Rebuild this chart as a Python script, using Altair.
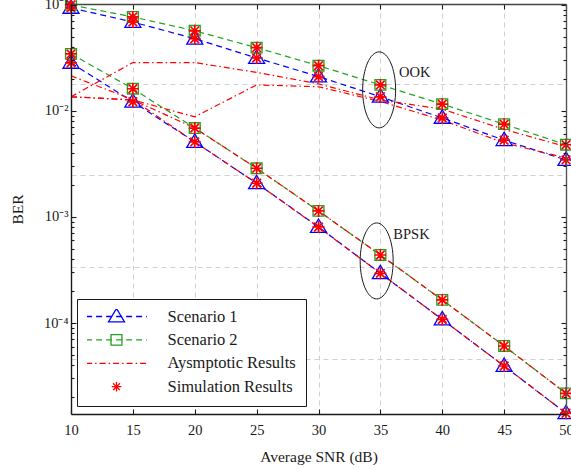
import altair as alt
import pandas as pd

# ---------------- data ----------------
snr = [10, 15, 20, 25, 30, 35, 40, 45, 50]

# simulated BER (OOK / BPSK, two scenarios)
ook_s1 = [0.0937, 0.069, 0.048, 0.0316, 0.0211, 0.0136, 0.0086, 0.0053, 0.00345]
ook_s2 = [0.100, 0.077, 0.057, 0.0395, 0.0267, 0.0176, 0.0116, 0.0075, 0.0048]
bpsk_s1 = [0.0284, 0.0122, 0.0051, 0.00208, 0.000805, 0.000294, 0.000108, 3.93e-5, 1.41e-5]
bpsk_s2 = [0.0345, 0.0162, 0.0069, 0.00288, 0.00114, 0.000438, 0.000165, 6.07e-5, 2.17e-5]

# asymptotic expressions
asym_ook_a = [0.0136, 0.0286, 0.0286, 0.0231, 0.0180, 0.0127, 0.0104, 0.0067, 0.0046]
asym_ook_b = [0.0136, 0.0127, 0.0088, 0.0176, 0.0169, 0.0123, 0.0082, 0.0050, 0.0036]
asym_bpsk_1 = [0.0214, 0.0128, 0.0051, 0.00208, 0.00080, 0.000294, 0.000108, 3.93e-5, 1.41e-5]
asym_bpsk_2 = [0.0136, 0.0127, 0.0069, 0.00288, 0.00114, 0.000438, 0.000165, 6.07e-5, 2.17e-5]

# annotations
group_names = ["OOK", "BPSK"]
group_snr = [34.9, 34.7]
group_ber = [0.0158, 3.85e-4]
group_label_snr = [36.5, 36.05]
group_label_ber = [0.0228, 6.8e-4]

legend_entries = ["Scenario 1", "Scenario 2", "Aysmptotic Results", "Simulation Results"]
legend_marker_keys = ["triangle", "square", "none", "asterisk"]

# axis ticks
x_grid_vals = [15, 20, 25, 30, 35, 40, 45]
y_major_exp = [-4, -3, -2, -1]
y_major_text = ["10⁻⁴", "10⁻³", "10⁻²", "10⁻¹"]
y_grid_vals = [0.0181, 0.00249, 3.38e-4, 4.57e-5]
y_domain = [1.386e-5, 0.102]

y_major = [10.0 ** e for e in y_major_exp]
y_minor = [m * 10.0 ** e for e in [-5, -4, -3, -2] for m in range(2, 10)
           if y_domain[0] <= m * 10.0 ** e <= y_domain[1]]


def frame(series):
    rows = []
    for name, vals in series.items():
        for s, v in zip(snr, vals):
            rows.append({"snr": s, "ber": v, "curve": name})
    return pd.DataFrame(rows)


s1_df = frame({"ook_s1": ook_s1, "bpsk_s1": bpsk_s1})
s2_df = frame({"ook_s2": ook_s2, "bpsk_s2": bpsk_s2})
asym_df = frame({"ook_a": asym_ook_a, "ook_b": asym_ook_b,
                 "bpsk_1": asym_bpsk_1, "bpsk_2": asym_bpsk_2})
sim_df = pd.concat([s1_df, s2_df], ignore_index=True)
ann_df = pd.DataFrame({"name": group_names, "snr": group_snr, "ber": group_ber})
lab_df = pd.DataFrame({"name": group_names, "snr": group_label_snr, "ber": group_label_ber})
# legend carriers sit left of the x domain and are clipped away
leg_df = pd.DataFrame({"entry": legend_entries, "entry_m": legend_marker_keys,
                       "snr": [0] * 4, "ber": [0.01] * 4})

# ---------------- styling ----------------
W, H = 495, 410
FONT = "Liberation Serif"
BLUE, GREEN, RED, INK = "#0000ff", "#1fa31f", "#ff0000", "#1a1a1a"
DASH = [6, 4]
DASHDOT = [6, 3, 1.5, 3]

TRI = "M0,-1L1,0.67L-1,0.67Z"
SQ = "M-0.68,-0.66L0.68,-0.66L0.68,0.66L-0.68,0.66Z"
STAR = "M-1,0L1,0M0,-1L0,1M-0.72,-0.72L0.72,0.72M-0.72,0.72L0.72,-0.72"
STAR_LEG = "M-0.6,0L0.6,0M0,-0.6L0,0.6M-0.43,-0.43L0.43,0.43M-0.43,0.43L0.43,-0.43"
LINE = "M-3.8,0L3.8,0"
a, k = 0.434, 0.5523
ELLIPSE = (f"M0,-1C{k*a:.4f},-1 {a},{-k} {a},0C{a},{k} {k*a:.4f},1 0,1"
           f"C{-k*a:.4f},1 {-a},{k} {-a},0C{-a},{-k} {-k*a:.4f},-1 0,-1Z")

x_scale = alt.Scale(domain=[10, 50], nice=False, zero=False)
y_scale = alt.Scale(type="log", domain=y_domain, nice=False)

y_label_expr = " : ".join(
    f"abs(log(datum.value)/LN10 - ({e})) < 0.01 ? '{t}'"
    for e, t in zip(y_major_exp, y_major_text)
) + " : ''"

tick_style = dict(grid=False, labels=False, ticks=True, tickColor=INK,
                  tickWidth=1.1, zindex=1)

x_main = alt.Axis(orient="bottom", values=snr, grid=False, ticks=False, tickSize=0,
                  domain=True, domainColor=INK, domainWidth=1.4,
                  labelFont=FONT, labelFontSize=14.5, labelColor=INK, labelPadding=9,
                  labelFlush=False, labelAngle=0, labelOverlap=False,
                  title="Average SNR (dB)", titleFont=FONT, titleFontSize=15.5,
                  titleFontWeight="normal", titleColor=INK, titlePadding=13, zindex=1)
x_ticks_bottom = alt.Axis(orient="top", offset=-H, values=snr, domain=False,
                          tickSize=5, **tick_style)
x_ticks_top = alt.Axis(orient="bottom", offset=-H, values=snr, domain=True,
                       domainColor="#444444", domainWidth=1.4, tickSize=5, **tick_style)
x_grid = alt.Axis(orient="bottom", values=x_grid_vals, grid=True, gridColor="#d0d0d0",
                  gridDash=[5, 4], gridWidth=1, labels=False, ticks=False,
                  domain=False, zindex=0)

y_main = alt.Axis(orient="left", values=y_major, labelExpr=y_label_expr, grid=False,
                  ticks=False, tickSize=0, domain=True, domainColor=INK, domainWidth=1.4,
                  labelFont=FONT, labelFontSize=14.5, labelColor=INK, labelPadding=3,
                  labelFlush=False, labelOverlap=False,
                  title="BER", titleFont=FONT, titleFontSize=15.5,
                  titleFontWeight="normal", titleColor=INK, titlePadding=18, zindex=1)
y_left_major = alt.Axis(orient="right", offset=-W, values=y_major, domain=False,
                        tickSize=5, **tick_style)
y_left_minor = alt.Axis(orient="right", offset=-W, values=y_minor, domain=False,
                        tickSize=3, **tick_style)
y_right_major = alt.Axis(orient="left", offset=-W, values=y_major, domain=True,
                         domainColor="#555555", domainWidth=1.4, tickSize=5, **tick_style)
y_right_minor = alt.Axis(orient="left", offset=-W, values=y_minor, domain=False,
                         tickSize=3, **tick_style)
y_grid = alt.Axis(orient="left", values=y_grid_vals, grid=True, gridColor="#d0d0d0",
                  gridDash=[5, 4], gridWidth=1, labels=False, ticks=False,
                  domain=False, zindex=0)


def xy(xaxis=None, yaxis=None):
    return dict(
        x=alt.X("snr:Q", scale=x_scale, axis=xaxis, title=None),
        y=alt.Y("ber:Q", scale=y_scale, axis=yaxis, title=None),
    )


# ---------------- layers ----------------
s1_lines = alt.Chart(s1_df).mark_line(color=BLUE, strokeDash=DASH, strokeWidth=1.2).encode(
    detail="curve:N", **xy(x_main, y_main))
s2_lines = alt.Chart(s2_df).mark_line(color=GREEN, strokeDash=DASH, strokeWidth=1.2).encode(
    detail="curve:N", **xy(x_ticks_bottom, y_left_major))
asym_lines = alt.Chart(asym_df).mark_line(color=RED, strokeDash=DASHDOT, strokeWidth=1.2).encode(
    detail="curve:N", **xy(x_ticks_top, y_left_minor))
triangles = alt.Chart(s1_df).mark_point(shape=TRI, size=256, filled=False, stroke=BLUE,
                                         strokeWidth=1.3, opacity=1).encode(
    **xy(x_grid, y_right_major))
squares = alt.Chart(s2_df).mark_point(shape=SQ, size=256, filled=False, stroke=GREEN,
                                       strokeWidth=1.3, opacity=1).encode(
    **xy(None, y_right_minor))
stars = alt.Chart(sim_df).mark_point(shape=STAR, size=144, filled=False, stroke=RED,
                                      strokeWidth=1.7, opacity=1).encode(
    **xy(None, y_grid))
ellipses = alt.Chart(ann_df).mark_point(shape=ELLIPSE, size=5776, filled=False, stroke=INK,
                                         strokeWidth=1, opacity=1).encode(**xy())
labels = alt.Chart(lab_df).mark_text(align="left", baseline="middle", font=FONT,
                                      fontSize=14.5, color=INK).encode(text="name:N", **xy())

legend_common = dict(orient="none", legendX=6, legendY=295, title=None, padding=10,
                     rowPadding=6.4, clipHeight=15, symbolSize=256, symbolStrokeWidth=1.3,
                     symbolOffset=20.5, labelOffset=42, labelFont=FONT,
                     labelFontSize=16.5, labelColor=INK, labelLimit=400)
legend_lines = alt.Legend(symbolType=LINE, fillColor="white", strokeColor=INK,
                          zindex=1, **legend_common)
legend_marks = alt.Legend(labelExpr="''", symbolFillColor="transparent",
                          symbolDash=[1, 0], zindex=2, **legend_common)

leg_line_layer = alt.Chart(leg_df).mark_line(clip=True).encode(
    color=alt.Color("entry:N", legend=legend_lines,
                    scale=alt.Scale(domain=legend_entries,
                                    range=[BLUE, GREEN, RED, "transparent"])),
    strokeDash=alt.StrokeDash("entry:N", legend=legend_lines,
                              scale=alt.Scale(domain=legend_entries,
                                              range=[DASH, DASH, DASHDOT, [1, 0]])),
    **xy())
leg_mark_layer = alt.Chart(leg_df).mark_point(clip=True, filled=False, opacity=1).encode(
    shape=alt.Shape("entry_m:N", legend=legend_marks,
                    scale=alt.Scale(domain=legend_marker_keys,
                                    range=[TRI, SQ, "M0,0", STAR_LEG])),
    stroke=alt.Stroke("entry_m:N", legend=legend_marks,
                      scale=alt.Scale(domain=legend_marker_keys,
                                      range=[BLUE, GREEN, "transparent", RED])),
    **xy())

chart = alt.layer(
    s1_lines, s2_lines, asym_lines, triangles, squares, stars, ellipses, labels,
    leg_line_layer, leg_mark_layer,
).resolve_axis(x="independent", y="independent").properties(
    width=W, height=H,
    autosize=alt.AutoSizeParams(type="none"),
    padding={"left": 71, "top": 4, "right": 5, "bottom": 55},
    background="white",
).configure_view(stroke=None)

chart.save("out.html", embed_options={"renderer": "svg", "actions": False})
